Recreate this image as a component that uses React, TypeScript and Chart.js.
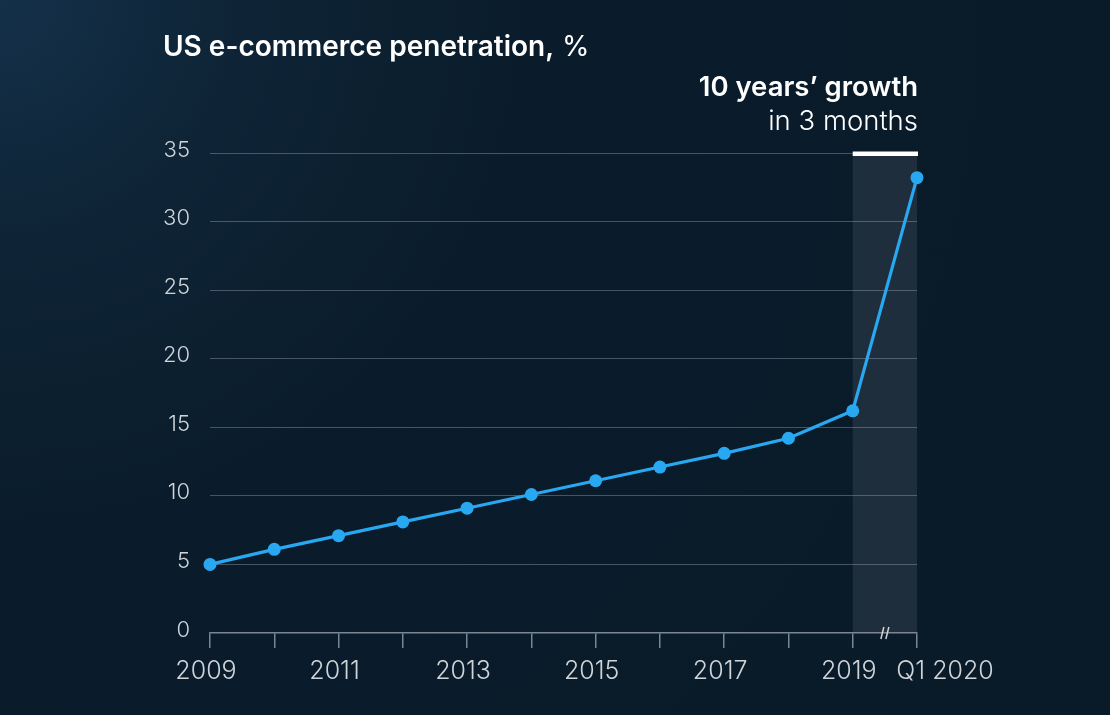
import React, { useEffect, useRef } from "react";
import { Chart, registerables } from "chart.js";

Chart.register(...registerables);

const years = [2009, 2010, 2011, 2012, 2013, 2014, 2015, 2016, 2017, 2018, 2019, 2020];
const xTickLabels = ["2009", "", "2011", "", "2013", "", "2015", "", "2017", "", "2019", "Q1 2020"];
const penetration = [5.0, 6.1, 7.1, 8.1, 9.1, 10.1, 11.1, 12.1, 13.1, 14.2, 16.2, 33.2];
const yTicks = [0, 5, 10, 15, 20, 25, 30, 35];
const titleBold = "US e-commerce penetration,";
const titleRegular = " %";
const noteBold = "10 years’ growth";
const noteRegular = "in 3 months";
const highlightFrom = 2019;
const highlightTo = 2020;

const BLUE = "#29a8f2";
const TEXT = "#ffffff";
const TICK_TEXT = "#cfd4d9";
const GRID = "rgba(150,165,180,0.42)";
const AXIS = "#7c8690";
const FONT = "Inter, 'Liberation Sans', sans-serif";

const overlayPlugin = {
  id: "overlay",
  beforeDraw(chart: any) {
    const { ctx, chartArea, scales } = chart;
    const x0 = scales.x.getPixelForValue(highlightFrom);
    const x1 = scales.x.getPixelForValue(highlightTo);
    ctx.save();
    ctx.fillStyle = "#1f2e3c";
    ctx.fillRect(x0, chartArea.top, x1 - x0, chartArea.bottom - chartArea.top);
    ctx.restore();
  },
  afterDraw(chart: any) {
    const { ctx, chartArea, scales } = chart;
    const x0 = scales.x.getPixelForValue(highlightFrom);
    const x1 = scales.x.getPixelForValue(highlightTo);
    ctx.save();
    // white bar
    ctx.fillStyle = "#ffffff";
    ctx.fillRect(x0, chartArea.top - 1.5, x1 - x0 + 1, 4.5);
    // axis break mark
    const mx = (x0 + x1) / 2;
    const by = chartArea.bottom;
    ctx.strokeStyle = TICK_TEXT;
    ctx.lineWidth = 1.5;
    ctx.beginPath();
    ctx.moveTo(mx - 4, by + 6);
    ctx.lineTo(mx - 1, by - 6);
    ctx.moveTo(mx + 1, by + 6);
    ctx.lineTo(mx + 4, by - 6);
    ctx.stroke();
    // Q1 2020 label, offset to the right
    ctx.fillStyle = TICK_TEXT;
    ctx.font = `300 25px ${FONT}`;
    ctx.textAlign = "center";
    ctx.textBaseline = "middle";
    ctx.fillText(xTickLabels[xTickLabels.length - 1], x1 + 28, 671);
    // Title
    ctx.textAlign = "left";
    ctx.textBaseline = "alphabetic";
    ctx.fillStyle = TEXT;
    ctx.font = `600 28px ${FONT}`;
    ctx.fillText(titleBold, 163, 56);
    const w = ctx.measureText(titleBold).width;
    ctx.font = `400 28px ${FONT}`;
    ctx.fillText(titleRegular, 163 + w, 56);
    // Annotation
    ctx.textAlign = "right";
    ctx.font = `600 27.5px ${FONT}`;
    ctx.fillText(noteBold, x1 + 1, 96);
    ctx.font = `300 27.5px ${FONT}`;
    ctx.fillText(noteRegular, x1 + 1, 130);
    ctx.restore();
  },
};

export default function App() {
  const ref = useRef<HTMLCanvasElement | null>(null);
  useEffect(() => {
    if (!ref.current) return;
    const chart = new Chart(ref.current, {
      type: "line",
      data: {
        datasets: [
          {
            data: years.map((y, i) => ({ x: y, y: penetration[i] })),
            borderColor: BLUE,
            backgroundColor: BLUE,
            borderWidth: 3.2,
            pointRadius: 6.5,
            pointBorderWidth: 0,
            pointBackgroundColor: BLUE,
            tension: 0,
            clip: false as any,
          },
        ],
      },
      options: {
        animation: false,
        responsive: false,
        layout: { padding: { left: 0, right: 193, top: 153, bottom: 0 } },
        plugins: { legend: { display: false }, tooltip: { enabled: false }, title: { display: false } },
        scales: {
          x: {
            type: "linear",
            min: years[0],
            max: years[years.length - 1],
            afterFit: (s: any) => {
              s.height = 82;
            },
            afterBuildTicks: (s: any) => {
              s.ticks = years.map((v) => ({ value: v }));
            },
            ticks: {
              autoSkip: false,
              maxRotation: 0,
              padding: 8,
              labelOffset: -4,
              color: (c: any) => (c.tick && c.tick.value === years[years.length - 1] ? "rgba(0,0,0,0)" : TICK_TEXT),
              font: { family: FONT, size: 25, weight: "300" as any },
              callback: (v: any) => xTickLabels[years.indexOf(Number(v))] ?? "",
            },
            grid: { drawOnChartArea: false, drawTicks: true, tickLength: 15, color: AXIS, lineWidth: 1.5 },
            border: { display: true, color: AXIS, width: 1.5 },
          },
          y: {
            min: 0,
            max: 35,
            afterFit: (s: any) => {
              s.width = 210;
            },
            afterBuildTicks: (s: any) => {
              s.ticks = yTicks.map((v) => ({ value: v }));
            },
            ticks: {
              padding: 20,
              labelOffset: -3,
              color: TICK_TEXT,
              font: { family: FONT, size: 22, weight: "300" as any },
            },
            grid: {
              drawTicks: false,
              color: (c: any) => (c.tick && c.tick.value === 0 ? "rgba(0,0,0,0)" : GRID),
              lineWidth: 1,
            },
            border: { display: false },
          },
        },
      },
      plugins: [overlayPlugin],
    });
    return () => chart.destroy();
  }, []);
  return (
    <div
      style={{
        position: "fixed",
        left: 0,
        top: 0,
        width: 1110,
        height: 715,
        background:
          "radial-gradient(circle at 0% 0%, #143049 0%, #0e2436 18%, #0a1c2b 40%, #091a28 100%)",
      }}
    >
      <canvas ref={ref} width={1110} height={715} style={{ display: "block" }} />
    </div>
  );
}
